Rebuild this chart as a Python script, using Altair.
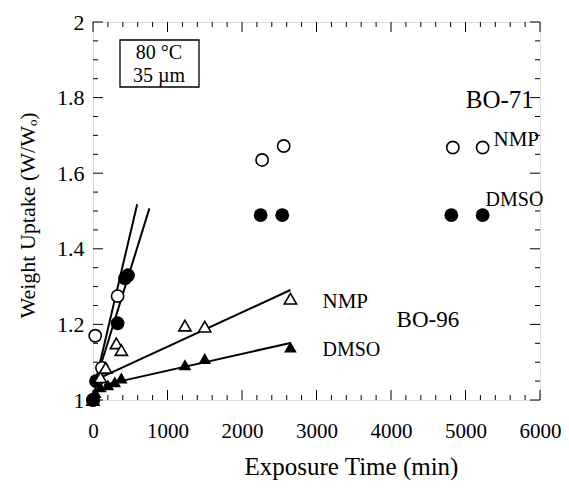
import altair as alt
import pandas as pd

# ---------------- data ----------------
nmp71_x = [0, 30, 120, 330, 2270, 2560, 4830, 5230]
nmp71_y = [1.00, 1.17, 1.085, 1.275, 1.635, 1.672, 1.668, 1.668]

dmso71_x = [0, 40, 330, 430, 470, 2250, 2540, 4810, 5230]
dmso71_y = [1.00, 1.05, 1.203, 1.322, 1.330, 1.489, 1.489, 1.489, 1.489]

nmp96_x = [0, 100, 170, 314, 380, 1234, 1500, 2650]
nmp96_y = [1.00, 1.06, 1.085, 1.150, 1.132, 1.197, 1.194, 1.268]

dmso96_x = [0, 30, 100, 200, 292, 380, 1234, 1500, 2650]
dmso96_y = [1.00, 1.02, 1.035, 1.040, 1.048, 1.058, 1.093, 1.110, 1.140]

fit_series = ["BO-71 NMP", "BO-71 NMP", "BO-71 DMSO", "BO-71 DMSO",
              "BO-96 NMP", "BO-96 NMP", "BO-96 DMSO", "BO-96 DMSO"]
fit_x = [30, 593, 30, 757, 100, 2650, 150, 2650]
fit_y = [1.045, 1.518, 1.045, 1.507, 1.059, 1.291, 1.040, 1.151]

label_text = ["BO-71", "NMP", "DMSO", "NMP", "DMSO", "BO-96"]
label_x = [5004, 5376, 5270, 3080, 3080, 4075]
label_y = [1.794, 1.688, 1.529, 1.259, 1.132, 1.212]
label_size = [25, 21, 20, 21, 20, 23]

x_major = [0, 1000, 2000, 3000, 4000, 5000, 6000]
x_minor = [v for v in range(0, 6001, 200) if v % 1000 != 0]
y_major = [1.0, 1.2, 1.4, 1.6, 1.8, 2.0]
y_minor = [round(1 + 0.05 * i, 2) for i in range(21) if i % 4 != 0]

inset_lines = ["80 °C", "35 µm"]

# ---------------- chart ----------------
W, H = 447, 378
FONT = "Liberation Serif"
xs = alt.Scale(domain=[0, 6000], nice=False, zero=False)
ys = alt.Scale(domain=[1, 2], nice=False, zero=False)

x_axis = alt.Axis(values=x_major, format="d", ticks=False, domain=False, grid=False,
                  labelOverlap=False, labelFlush=False,
                  labelFont=FONT, labelFontSize=21, labelPadding=20, labelColor="black",
                  title="Exposure Time (min)", titleFont=FONT, titleFontSize=25,
                  titleFontWeight="normal", titleColor="black",
                  titleX=258, titleY=66, titleBaseline="middle")
y_axis = alt.Axis(values=y_major, format="~g", ticks=False, domain=False, grid=False,
                  labelOverlap=False, labelFlush=False,
                  labelFont=FONT, labelFontSize=22, labelPadding=9, labelColor="black",
                  title="Weight Uptake (W/Wₒ)", titleFont=FONT, titleFontSize=22,
                  titleFontWeight="normal", titleColor="black",
                  titleX=-66, titleY=193, titleBaseline="middle")


def xenc():
    return alt.X("x:Q", scale=xs, axis=x_axis, title="Exposure Time (min)")


def yenc():
    return alt.Y("y:Q", scale=ys, axis=y_axis, title="Weight Uptake (W/Wₒ)")


layers = []

# tick marks (inside, on all four sides)
def xticks(vals, length):
    df = pd.DataFrame({"x": vals})
    base = alt.Chart(df).mark_rule(color="black", strokeWidth=1)
    return [
        base.encode(x=xenc(), y=alt.value(H), y2=alt.value(H - length)),
        base.encode(x=xenc(), y=alt.value(0), y2=alt.value(length)),
    ]


def yticks(vals, length):
    df = pd.DataFrame({"y": vals})
    base = alt.Chart(df).mark_rule(color="black", strokeWidth=1)
    return [
        base.encode(y=yenc(), x=alt.value(0), x2=alt.value(length)),
        base.encode(y=yenc(), x=alt.value(W), x2=alt.value(W - length)),
    ]


layers += xticks(x_major, 10) + xticks(x_minor, 5)
layers += yticks(y_major, 10) + yticks(y_minor, 5)

# fitted lines
fit_df = pd.DataFrame({"x": fit_x, "y": fit_y, "s": fit_series})
layers.append(
    alt.Chart(fit_df).mark_line(color="black", strokeWidth=2).encode(
        x=xenc(), y=yenc(), detail="s:N")
)


def pts(xv, yv, shape, filled, size):
    df = pd.DataFrame({"x": xv, "y": yv})
    if filled:
        m = alt.Chart(df).mark_point(shape=shape, filled=True, color="black",
                                     opacity=1, size=size)
    else:
        m = alt.Chart(df).mark_point(shape=shape, filled=False, fill="white",
                                     stroke="black", strokeWidth=1.6, opacity=1,
                                     size=size)
    return m.encode(x=xenc(), y=yenc())


layers.append(pts(nmp71_x, nmp71_y, "circle", False, 150))
layers.append(pts(dmso71_x, dmso71_y, "circle", True, 190))
layers.append(pts(nmp96_x, nmp96_y, "triangle-up", False, 150))
layers.append(pts(dmso96_x, dmso96_y, "triangle-up", True, 160))

# series labels
lab_df = pd.DataFrame({"x": label_x, "y": label_y, "t": label_text, "fs": label_size})
layers.append(
    alt.Chart(lab_df).mark_text(font=FONT, align="left", baseline="middle",
                                color="black").encode(
        x=xenc(), y=yenc(), text="t:N",
        size=alt.Size("fs:Q", scale=None, legend=None))
)

# inset box with conditions
box_df = pd.DataFrame({"k": [0]})
layers.append(
    alt.Chart(box_df).mark_rect(fill="white", stroke="black", strokeWidth=1.3).encode(
        x=alt.value(27), x2=alt.value(106), y=alt.value(18), y2=alt.value(65))
)
inset_df = pd.DataFrame({"t": inset_lines})
layers.append(
    alt.Chart(inset_df.iloc[[0]]).mark_text(font=FONT, fontSize=20, align="center",
                                            baseline="middle", color="black").encode(
        x=alt.value(66), y=alt.value(31), text="t:N")
)
layers.append(
    alt.Chart(inset_df.iloc[[1]]).mark_text(font=FONT, fontSize=20, align="center",
                                            baseline="middle", color="black").encode(
        x=alt.value(66), y=alt.value(54), text="t:N")
)

chart = alt.layer(*layers).properties(
    width=W, height=H, autosize="none",
    padding={"left": 85, "top": 14, "right": 21, "bottom": 80},
).configure_view(stroke="black", strokeWidth=1.5).configure(background="white")

chart.save("out.html", embed_options={"renderer": "svg", "actions": False})
